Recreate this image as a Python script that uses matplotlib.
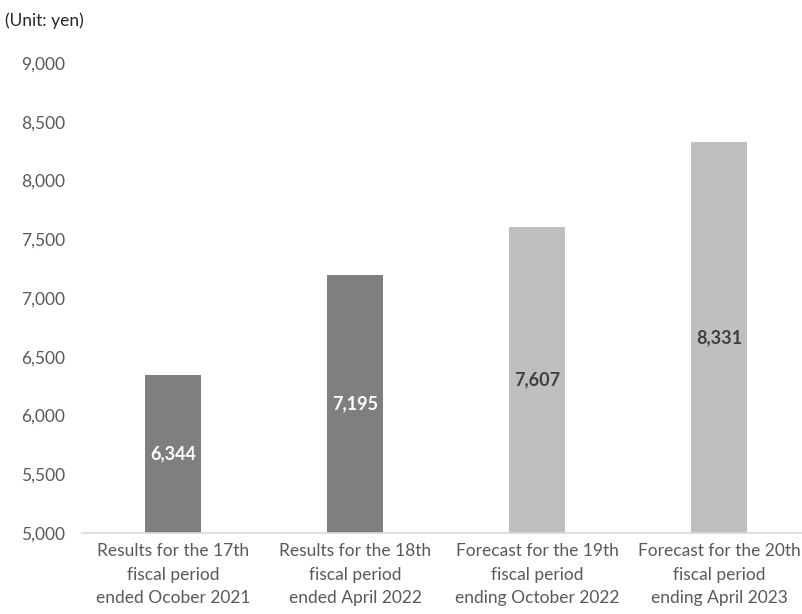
import matplotlib.pyplot as plt
import matplotlib.ticker as mticker

# ── Data ─────────────────────────────────────────────────────────────────────
categories = [
    "Results for the 17th\nfiscal period\nended Ocober 2021",
    "Results for the 18th\nfiscal period\nended April 2022",
    "Forecast for the 19th\nfiscal period\nending October 2022",
    "Forecast for the 20th\nfiscal period\nending April 2023",
]
values = [6344, 7195, 7607, 8331]
bar_colors = ["#7f7f7f", "#7f7f7f", "#bfbfbf", "#bfbfbf"]
label_colors = ["white", "white", "#404040", "#404040"]
y_ticks = [5000, 5500, 6000, 6500, 7000, 7500, 8000, 8500, 9000]

plt.rcParams["font.family"] = ["Lato", "DejaVu Sans"]

fig = plt.figure(figsize=(8.03, 6.14), dpi=100)
W, H = 803, 614
# axes: x from 82 to 810 px, y from 533 (5000) to 63 (9000)
ax = fig.add_axes([82 / W, (H - 533) / H, 728 / W, 470 / H])

x = range(len(values))
ax.bar(x, values, width=0.31, color=bar_colors, zorder=2)

ymin = 5000
for xi, v, c in zip(x, values, label_colors):
    ax.text(xi, (ymin + v) / 2, f"{v:,}", ha="center", va="center",
            color=c, fontsize=13, fontweight="bold")

ax.set_xlim(-0.5, 3.5)
ax.set_ylim(5000, 9000)
ax.set_yticks(y_ticks)
ax.yaxis.set_major_formatter(mticker.FuncFormatter(lambda v, p: f"{int(v):,}"))
ax.set_xticks(list(x))
ax.set_xticklabels(categories, fontsize=12.5, color="#595959", linespacing=1.6)
ax.tick_params(axis="y", labelsize=12.5, labelcolor="#595959", length=0, pad=12)
ax.tick_params(axis="x", length=0, pad=7)

for side in ["top", "right", "left"]:
    ax.spines[side].set_visible(False)
ax.spines["bottom"].set_color("#d9d9d9")
ax.spines["bottom"].set_linewidth(1.2)

fig.text(5 / W, 1 - 21 / H, "(Unit: yen)", fontsize=12.5, color="#262626",
         ha="left", va="center")

fig.savefig("out.png", dpi=100)
